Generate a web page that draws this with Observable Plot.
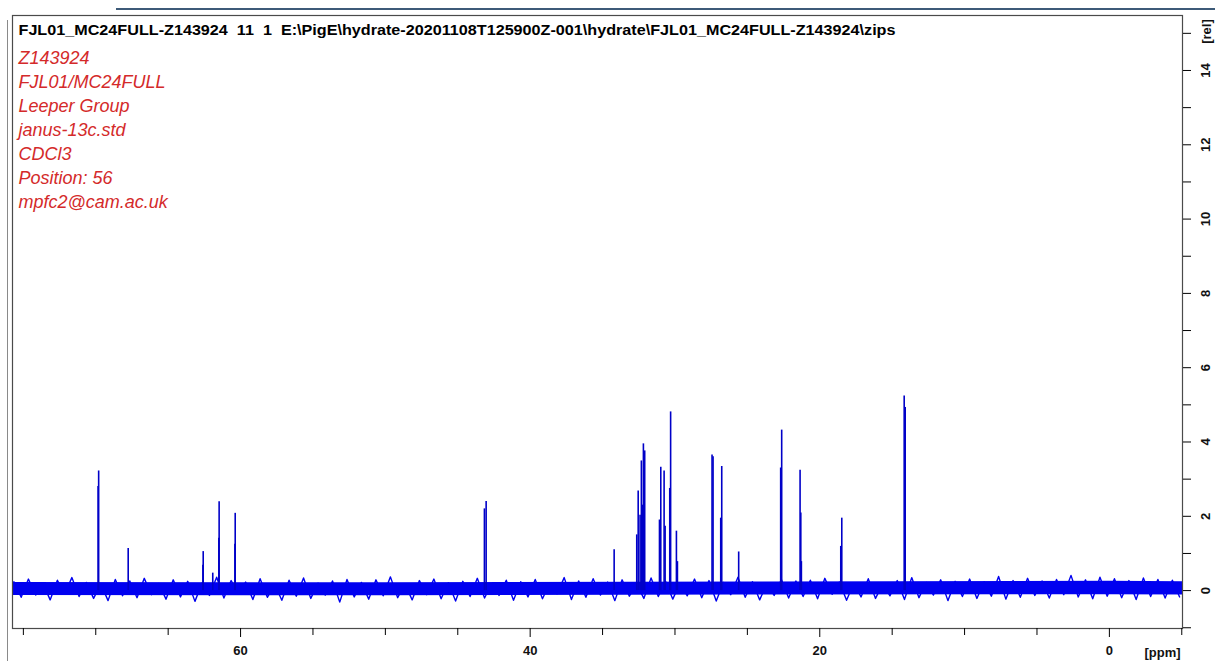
<!DOCTYPE html>
<html>
<head>
<meta charset="utf-8">
<script src="https://cdn.jsdelivr.net/npm/d3@7"></script>
<script src="https://cdn.jsdelivr.net/npm/@observablehq/plot@0.6"></script>
<style>
  html, body { margin: 0; padding: 0; background: #fff; }
  #wrap { position: relative; width: 1215px; height: 661px; overflow: hidden; }
  .chrome-left { position: absolute; left: 7px; top: 20px; height: 641px; width: 0; border-left: 1px solid #8a8a8a; }
  .chrome-top { position: absolute; left: 116px; top: 8px; width: 1099px; height: 0; border-top: 2px solid #3d5a78; }
</style>
</head>
<body>
<div id="wrap"><div class="chrome-left"></div><div class="chrome-top"></div></div>
<script>
// ---- data ----
const titleText = "FJL01_MC24FULL-Z143924\u00a0\u00a011\u00a0\u00a01\u00a0\u00a0E:\\PigE\\hydrate-20201108T125900Z-001\\hydrate\\FJL01_MC24FULL-Z143924\\zips";
const infoLines = ["Z143924", "FJL01/MC24FULL", "Leeper Group", "janus-13c.std", "CDCl3", "Position: 56", "mpfc2@cam.ac.uk"];

// peak positions (ppm) and heights (rel)
const peakPpm = [69.84, 69.80, 67.76, 62.60, 62.58, 61.92, 61.50, 61.48, 60.39, 60.37,
  43.16, 43.04, 34.20, 32.64, 32.54, 32.41, 32.32, 32.25, 32.18, 32.09,
  31.07, 30.98, 30.75, 30.68, 30.36, 30.30, 29.90, 29.83,
  27.44, 27.37, 26.84, 26.77, 25.60, 22.70, 22.63, 21.36, 21.31, 21.27,
  18.55, 18.48, 14.17, 14.10];
const peakHeight = [2.80, 3.22, 1.13, 0.68, 1.05, 0.47, 1.41, 2.39, 1.25, 2.08,
  2.20, 2.40, 1.10, 1.50, 2.68, 2.03, 3.49, 2.30, 3.95, 3.76,
  1.90, 3.32, 3.22, 1.73, 2.75, 4.81, 1.60, 0.78,
  3.65, 3.60, 1.95, 3.34, 1.04, 3.30, 4.32, 3.24, 2.09, 0.78,
  1.19, 1.95, 5.24, 4.93];

// baseline noise trace, one value every 0.5 ppm from 75.65 ppm downwards
const noiseTrace = [
  0.24,-0.18,0.31,-0.12,0.20,-0.25,0.28,-0.09,0.35,-0.16,
  0.22,-0.21,0.18,-0.27,0.30,-0.14,0.26,-0.19,0.33,-0.11,
  0.19,-0.23,0.29,-0.17,0.25,-0.29,0.21,-0.13,0.36,-0.20,
  0.27,-0.10,0.23,-0.24,0.32,-0.18,0.17,-0.26,0.28,-0.15,
  0.34,-0.21,0.20,-0.12,0.26,-0.31,0.30,-0.17,0.22,-0.23,
  0.29,-0.14,0.37,-0.19,0.18,-0.25,0.27,-0.11,0.31,-0.22,
  0.21,-0.28,0.25,-0.16,0.33,-0.20,0.19,-0.13,0.28,-0.26,
  0.24,-0.17,0.30,-0.22,0.20,-0.09,0.35,-0.24,0.26,-0.18,
  0.32,-0.12,0.23,-0.27,0.29,-0.15,0.18,-0.21,0.34,-0.16,
  0.25,-0.23,0.21,-0.14,0.31,-0.19,0.27,-0.28,0.22,-0.11,
  0.36,-0.18,0.24,-0.25,0.19,-0.13,0.30,-0.20,0.26,-0.16,
  0.28,-0.22,0.33,-0.10,0.23,-0.26,0.20,-0.17,0.32,-0.21,
  0.18,-0.14,0.27,-0.24,0.35,-0.19,0.22,-0.12,0.29,-0.27,
  0.25,-0.16,0.31,-0.21,0.24,-0.15,0.38,-0.23,0.27,-0.18,
  0.33,-0.13,0.26,-0.20,0.30,-0.11,0.41,-0.17,0.29,-0.22,
  0.36,-0.15,0.32,-0.19,0.27,-0.24,0.34,-0.16,0.30,-0.20,
  0.28,-0.17,0.25];
// solid core of the baseline noise
const corePpm = [75.75, 50, 25, 0, -5.05];
const coreHi = [0.22, 0.21, 0.23, 0.25, 0.24];
const coreLo = [-0.13, -0.14, -0.12, -0.11, -0.12];

const xMajorTicks = [60, 40, 20, 0];
const xMinorTicks = [75, 70, 65, 55, 50, 45, 35, 30, 25, 15, 10, 5, -5];
const yMajorTicks = [0, 2, 4, 6, 8, 10, 12, 14];
const yMinorTicks = [-1, 1, 3, 5, 7, 9, 11, 13, 15];

// ---- tables built from the arrays ----
const peaks = peakPpm.map((p, i) => ({ppm: p, h: peakHeight[i]}));
const noiseGrid = d3.range(75.65, -5.2, -0.5);
const trace = noiseTrace.map((v, i) => ({ppm: noiseGrid[i], v}));
const core = corePpm.map((p, i) => ({ppm: p, hi: coreHi[i], lo: coreLo[i]}));

const blue = "#0000f0";
const chart = Plot.plot({
  width: 1215,
  height: 661,
  marginLeft: 12,
  marginRight: 33,
  marginTop: 15,
  marginBottom: 33,
  style: {fontFamily: "'Liberation Sans', Arial, sans-serif", background: "transparent", overflow: "visible"},
  x: {domain: [75.75, -5.05], label: null},
  y: {domain: [-1.02, 15.48], label: null},
  marks: [
    Plot.areaY(core, {x: "ppm", y1: "lo", y2: "hi", fill: blue}),
    Plot.lineY(trace, {x: "ppm", y: "v", stroke: blue, strokeWidth: 1.4}),
    Plot.ruleX(peaks, {x: "ppm", y1: 0, y2: "h", stroke: "#0000c8", strokeWidth: 1.6}),
    Plot.frame({stroke: "#4a4a4a", strokeWidth: 1.2}),
    Plot.axisX({ticks: xMajorTicks, tickSize: 9, tickPadding: 8, fontWeight: "bold", fontSize: 13, fill: "#111"}),
    Plot.axisX({ticks: xMinorTicks, tickSize: 7, tickFormat: () => ""}),
    Plot.axisY({anchor: "right", ticks: yMajorTicks, tickSize: 8, tickPadding: 19, tickRotate: -90, fontWeight: "bold", fontSize: 13, fill: "#111"}),
    Plot.axisY({anchor: "right", ticks: yMinorTicks, tickSize: 8, tickFormat: () => ""}),
    Plot.text(["[ppm]"], {frameAnchor: "bottom-right", dx: -20, dy: 24, textAnchor: "middle", lineAnchor: "middle", fontWeight: "bold", fontSize: 13, fill: "#111"}),
    Plot.text(["[rel]"], {frameAnchor: "top-right", dx: 24, dy: 16, rotate: -90, textAnchor: "middle", lineAnchor: "middle", fontWeight: "bold", fontSize: 13, fill: "#111"}),
    Plot.text([titleText], {frameAnchor: "top-left", dx: 6, dy: 15, textAnchor: "start", lineAnchor: "middle", fontWeight: "bold", fontSize: 14, fill: "#000"}),
    Plot.text([infoLines.join("\n")], {frameAnchor: "top-left", dx: 6, dy: 31, textAnchor: "start", lineAnchor: "top", lineHeight: 1.3333, fontSize: 18, fontStyle: "italic", fill: "#d42a2a"})
  ]
});
// stretch the header line to the reference width
chart.querySelectorAll("text").forEach(t => {
  if (t.textContent.startsWith("FJL01_MC24FULL-Z143924")) {
    t.setAttribute("textLength", "877");
    t.setAttribute("lengthAdjust", "spacingAndGlyphs");
  }
});
document.getElementById("wrap").appendChild(chart);
chart.style.position = "absolute";
chart.style.left = "0";
chart.style.top = "0";
</script>
</body>
</html>
